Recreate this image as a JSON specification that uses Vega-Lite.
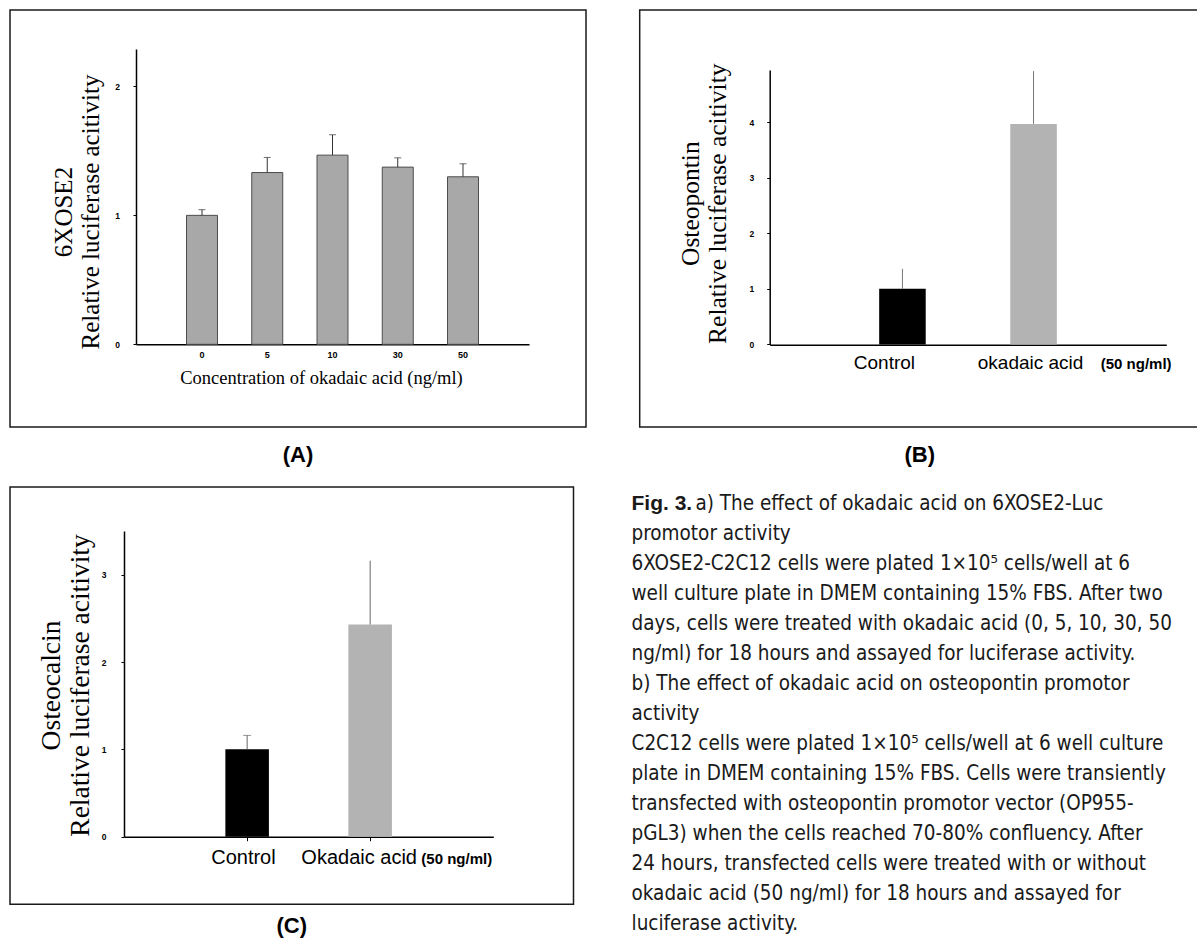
{
  "$schema": "https://vega.github.io/schema/vega-lite/v6.json",
  "padding": {"left": 9, "top": 9, "right": 0, "bottom": 0},
  "background": "white",
  "config": {
    "view": {"stroke": "#1a1a1a", "strokeWidth": 1.5},
    "title": {"font": "Liberation Sans", "fontSize": 22, "fontWeight": "bold", "color": "black", "orient": "bottom", "offset": 18, "anchor": "middle"},
    "axis": {"domainColor": "black", "domainWidth": 1.5, "tickColor": "black", "labelFont": "Liberation Sans", "labelFontWeight": "bold", "labelFontSize": 8.5, "labelColor": "black", "grid": false, "titleFont": "Liberation Serif", "titleFontWeight": "normal", "titleColor": "black"}
  },
  "datasets": {
    "a": [
      {"conc": "0", "value": 1.0, "upper": 1.044},
      {"conc": "5", "value": 1.332, "upper": 1.449},
      {"conc": "10", "value": 1.467, "upper": 1.625},
      {"conc": "30", "value": 1.374, "upper": 1.446},
      {"conc": "50", "value": 1.299, "upper": 1.40}
    ],
    "b": [
      {"group": "Control", "label": "Control", "unit": "", "value": 1.0, "upper": 1.36},
      {"group": "Okadaic acid", "label": "okadaic acid", "unit": "(50 ng/ml)", "value": 3.97, "upper": 4.92}
    ],
    "c": [
      {"group": "Control", "label": "Control", "unit": "", "value": 1.0, "upper": 1.16},
      {"group": "Okadaic acid", "label": "Okadaic acid", "unit": "(50 ng/ml)", "value": 2.43, "upper": 3.16}
    ],
    "cap": [
      {"line": 1, "lead": "Fig. 3.", "text": "a) The effect of okadaic acid on 6XOSE2-Luc"},
      {"line": 2, "lead": "", "text": "promotor activity"},
      {"line": 3, "lead": "", "text": "6XOSE2-C2C12 cells were plated 1×10⁵ cells/well at 6"},
      {"line": 4, "lead": "", "text": "well culture plate in DMEM containing 15% FBS. After two"},
      {"line": 5, "lead": "", "text": "days, cells were treated with okadaic acid (0, 5, 10, 30, 50"},
      {"line": 6, "lead": "", "text": "ng/ml) for 18 hours and assayed for luciferase activity."},
      {"line": 7, "lead": "", "text": "b) The effect of okadaic acid on osteopontin promotor"},
      {"line": 8, "lead": "", "text": "activity"},
      {"line": 9, "lead": "", "text": "C2C12 cells were plated 1×10⁵ cells/well at 6 well culture"},
      {"line": 10, "lead": "", "text": "plate in DMEM containing 15% FBS. Cells were transiently"},
      {"line": 11, "lead": "", "text": "transfected with osteopontin promotor vector (OP955-"},
      {"line": 12, "lead": "", "text": "pGL3) when the cells reached 70-80% confluency. After"},
      {"line": 13, "lead": "", "text": "24 hours, transfected cells were treated with or without"},
      {"line": 14, "lead": "", "text": "okadaic acid (50 ng/ml) for 18 hours and assayed for"},
      {"line": 15, "lead": "", "text": "luciferase activity."}
    ]
  },
  "spacing": 19,
  "vconcat": [
    {
      "spacing": 51.7,
      "hconcat": [
        {
          "width": 576,
          "height": 417,
          "title": "(A)",
          "data": {"name": "a"},
          "encoding": {
            "x": {
              "field": "conc", "type": "ordinal", "sort": null,
              "scale": {"type": "band", "range": [126, 519], "paddingInner": 0.525, "paddingOuter": 0.774},
              "axis": {"orient": "bottom", "offset": -82.7, "ticks": false, "tickSize": 0, "labelPadding": 6, "labelFontSize": 9, "labelAngle": 0,
                       "title": "Concentration of okadaic acid (ng/ml)", "titleFontSize": 18.5, "titleX": 311, "titleY": 33, "titleBaseline": "middle"}
            },
            "y": {"field": "value", "type": "quantitative",
                  "scale": {"domain": [0, 2.29], "range": [334.3, 39], "nice": false, "zero": true},
                  "axis": {"orient": "left", "offset": -126, "values": [0, 1, 2], "tickSize": 3, "labelPadding": 13.5,
                           "title": ["6XOSE2", "Relative luciferase acitivity"], "titleFontSize": 25, "titleLineHeight": 27, "titleX": -59.7, "titleY": 201.5}}
          },
          "layer": [
            {"mark": {"type": "bar", "fill": "#a8a8a8", "stroke": "#4d4d4d", "strokeWidth": 1}},
            {"mark": {"type": "rule", "color": "#333333", "strokeWidth": 1}, "encoding": {"y2": {"field": "upper"}}},
            {"mark": {"type": "tick", "orient": "horizontal", "size": 7, "thickness": 1, "color": "#333333"},
             "encoding": {"y": {"field": "upper", "type": "quantitative"}}}
          ]
        },
        {
          "width": 560,
          "height": 417,
          "title": "(B)",
          "data": {"name": "b"},
          "encoding": {
            "x": {
              "field": "group", "type": "nominal", "sort": null,
              "scale": {"type": "band", "range": [130, 526.6], "paddingInner": 0.645, "paddingOuter": 0.835},
              "axis": {"orient": "bottom", "offset": -82.3, "ticks": false, "labels": false, "title": null}
            },
            "y": {"field": "value", "type": "quantitative",
                  "scale": {"domain": [0, 4.94], "range": [334.4, 60], "nice": false, "zero": true},
                  "axis": {"orient": "left", "offset": -130, "values": [0, 1, 2, 3, 4], "tickSize": 3, "labelPadding": 13,
                           "title": ["Osteopontin", "Relative luciferase acitivity"], "titleFontSize": 25.5, "titleLineHeight": 26.7, "titleX": -66.3, "titleY": 193.2}}
          },
          "layer": [
            {
              "mark": {"type": "bar"},
              "encoding": {"color": {"field": "group", "type": "nominal", "scale": {"range": ["#000000", "#b3b3b3"]}, "legend": null}}
            },
            {"mark": {"type": "rule", "color": "#777777", "strokeWidth": 1}, "encoding": {"y2": {"field": "upper"}}},
            {
              "transform": [{"filter": "datum.unit == ''"}],
              "mark": {"type": "text", "font": "Liberation Sans", "fontSize": 19, "align": "center", "baseline": "alphabetic", "dx": -18, "dy": 25, "color": "black"},
              "encoding": {"y": {"datum": 0, "type": "quantitative"}, "text": {"field": "label"}}
            },
            {
              "transform": [{"filter": "datum.unit != ''"}],
              "mark": {"type": "text", "font": "Liberation Sans", "fontSize": 19, "align": "left", "baseline": "alphabetic", "dx": -55.8, "dy": 25, "color": "black"},
              "encoding": {"y": {"datum": 0, "type": "quantitative"}, "text": {"field": "label"}}
            },
            {
              "transform": [{"filter": "datum.unit != ''"}],
              "mark": {"type": "text", "font": "Liberation Sans", "fontSize": 15, "fontWeight": "bold", "align": "left", "baseline": "alphabetic", "dx": 67.2, "dy": 25, "color": "black"},
              "encoding": {"y": {"datum": 0, "type": "quantitative"}, "text": {"field": "unit"}}
            }
          ]
        }
      ]
    },
    {
      "spacing": 56.5,
      "hconcat": [
        {
          "width": 563.5,
          "height": 417.3,
          "title": {"text": "(C)", "offset": 12},
          "data": {"name": "c"},
          "encoding": {
            "x": {
              "field": "group", "type": "nominal", "sort": null,
              "scale": {"type": "band", "range": [114, 483.3], "paddingInner": 0.646, "paddingOuter": 0.824},
              "axis": {"orient": "bottom", "offset": -67.6, "ticks": true, "tickSize": 4, "labels": false, "title": null}
            },
            "y": {"field": "value", "type": "quantitative",
                  "scale": {"domain": [0, 3.5], "range": [349.7, 44], "nice": false, "zero": true},
                  "axis": {"orient": "left", "offset": -114, "values": [0, 1, 2, 3], "tickSize": 3, "labelPadding": 15,
                           "title": ["Osteocalcin", "Relative luciferase acitivity"], "titleFontSize": 27.5, "titleLineHeight": 28.3, "titleX": -58.2, "titleY": 198}}
          },
          "layer": [
            {
              "mark": {"type": "bar"},
              "encoding": {"color": {"field": "group", "type": "nominal", "scale": {"range": ["#000000", "#7d7d7d"]}, "legend": null}}
            },
            {"mark": {"type": "rule", "color": "#666666", "strokeWidth": 1}, "encoding": {"y2": {"field": "upper"}}},
            {
              "transform": [{"filter": "datum.unit == ''"}],
              "mark": {"type": "tick", "orient": "horizontal", "size": 8, "thickness": 1, "color": "#666666"},
              "encoding": {"y": {"field": "upper", "type": "quantitative"}}
            },
            {
              "transform": [{"filter": "datum.unit == ''"}],
              "mark": {"type": "text", "font": "Liberation Sans", "fontSize": 20, "align": "center", "baseline": "alphabetic", "dx": -3.7, "dy": 27, "color": "black"},
              "encoding": {"y": {"datum": 0, "type": "quantitative"}, "text": {"field": "label"}}
            },
            {
              "transform": [{"filter": "datum.unit != ''"}],
              "mark": {"type": "text", "font": "Liberation Sans", "fontSize": 20, "align": "left", "baseline": "alphabetic", "dx": -68.8, "dy": 27, "color": "black"},
              "encoding": {"y": {"datum": 0, "type": "quantitative"}, "text": {"field": "label"}}
            },
            {
              "transform": [{"filter": "datum.unit != ''"}],
              "mark": {"type": "text", "font": "Liberation Sans", "fontSize": 15, "fontWeight": "bold", "align": "left", "baseline": "alphabetic", "dx": 51.2, "dy": 27, "color": "black"},
              "encoding": {"y": {"datum": 0, "type": "quantitative"}, "text": {"field": "unit"}}
            }
          ]
        },
        {
          "width": 568,
          "height": 450,
          "view": {"stroke": null},
          "data": {"name": "cap"},
          "encoding": {
            "y": {"field": "line", "type": "ordinal", "scale": {"type": "point", "range": [17.3, 436.7], "padding": 0}, "axis": null},
            "x": {"datum": 0, "type": "quantitative", "scale": {"domain": [0, 1]}, "axis": null}
          },
          "layer": [
            {
              "mark": {"type": "text", "align": "left", "baseline": "middle", "font": "Liberation Sans", "fontWeight": "bold", "fontSize": 21, "color": "#1a1a1a"},
              "encoding": {"text": {"field": "lead"}}
            },
            {
              "transform": [{"filter": "datum.line == 1"}],
              "mark": {"type": "text", "align": "left", "baseline": "middle", "font": "DejaVu Sans Condensed", "fontSize": 20.5, "dx": 64, "clip": true, "color": "#1a1a1a"},
              "encoding": {"text": {"field": "text"}}
            },
            {
              "transform": [{"filter": "datum.line > 1"}],
              "mark": {"type": "text", "align": "left", "baseline": "middle", "font": "DejaVu Sans Condensed", "fontSize": 20.5, "clip": true, "color": "#1a1a1a"},
              "encoding": {"text": {"field": "text"}}
            }
          ]
        }
      ]
    }
  ]
}
